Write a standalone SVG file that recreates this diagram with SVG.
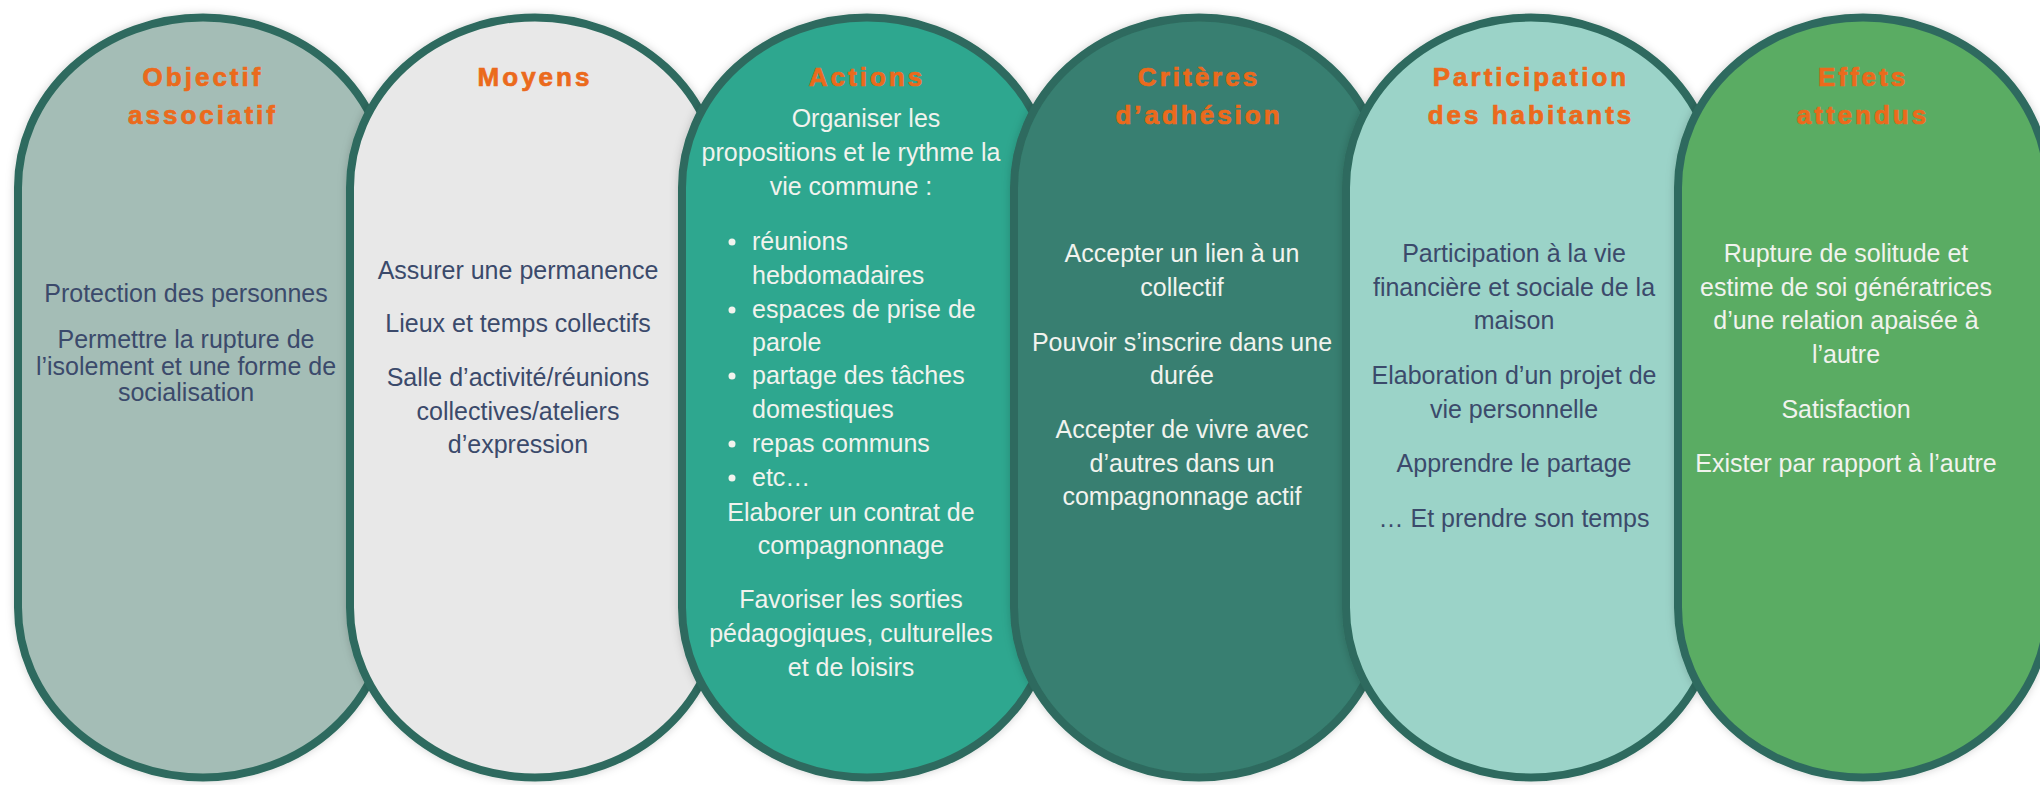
<svg xmlns="http://www.w3.org/2000/svg" xmlns:xlink="http://www.w3.org/1999/xlink" width="2040" height="785" viewBox="0 0 2040 785">
  <style>
    .cap { stroke: #2E6B5E; stroke-width: 8; }
    .f1 { fill: #A4BDB6; }
    .f2 { fill: #E8E8E8; }
    .f3 { fill: #2EA78F; }
    .f4 { fill: #377F71; }
    .f5 { fill: #9BD3C8; }
    .f6 { fill: #5AAC64; }
    .title { font-family: "Liberation Sans", Arial, sans-serif; font-weight: bold; font-size: 26px; letter-spacing: 3px; fill: #EB6A1C; stroke: #EB6A1C; stroke-width: 0.7px; text-anchor: middle; }
    .body { font-family: "Liberation Sans", Arial, sans-serif; font-size: 25px; text-anchor: middle; }
    .left { text-anchor: start; }
    .dark { fill: #3B4A6B; }
    .light { fill: #F1F3EE; }
    .bullet { fill: #F1F3EE; }
  </style>
  <defs>
    <path id="capsule" d="M -185,187.5 A 185 170 0 0 1 185,187.5 L 185,607.5 A 185 170 0 0 1 -185,607.5 Z"/>
    <filter id="shadow" x="-10%" y="-10%" width="120%" height="120%">
      <feDropShadow dx="0" dy="0" stdDeviation="4" flood-color="#000000" flood-opacity="0.18"/>
    </filter>
  </defs>
  <rect x="0" y="0" width="2040" height="785" fill="#FFFFFF"/>

  <g id="node-objectif">
    <use xlink:href="#capsule" href="#capsule" x="203" class="cap f1" filter="url(#shadow)"/>
    <text class="title" x="203" y="86">Objectif</text>
    <text class="title" x="203" y="124">associatif</text>
    <text class="body dark" x="186" y="302">Protection des personnes</text>
    <text class="body dark" x="186" y="348">Permettre la rupture de</text>
    <text class="body dark" x="186" y="375">l’isolement et une forme de</text>
    <text class="body dark" x="186" y="401">socialisation</text>
  </g>

  <g id="node-moyens">
    <use xlink:href="#capsule" href="#capsule" x="535" class="cap f2" filter="url(#shadow)"/>
    <text class="title" x="535" y="86">Moyens</text>
    <text class="body dark" x="518" y="279">Assurer une permanence</text>
    <text class="body dark" x="518" y="332">Lieux et temps collectifs</text>
    <text class="body dark" x="518" y="386">Salle d’activité/réunions</text>
    <text class="body dark" x="518" y="420">collectives/ateliers</text>
    <text class="body dark" x="518" y="453">d’expression</text>
  </g>

  <g id="node-actions">
    <use xlink:href="#capsule" href="#capsule" x="867" class="cap f3" filter="url(#shadow)"/>
    <text class="title" x="867" y="86">Actions</text>
    <text class="body light" x="866" y="127">Organiser les</text>
    <text class="body light" x="851" y="161">propositions et le rythme la</text>
    <text class="body light" x="851" y="195">vie commune :</text>
    <circle class="bullet" cx="732" cy="242" r="3.5"/>
    <text class="body light left" x="752" y="250">réunions</text>
    <text class="body light left" x="752" y="284">hebdomadaires</text>
    <circle class="bullet" cx="732" cy="310" r="3.5"/>
    <text class="body light left" x="752" y="318">espaces de prise de</text>
    <text class="body light left" x="752" y="351">parole</text>
    <circle class="bullet" cx="732" cy="376" r="3.5"/>
    <text class="body light left" x="752" y="384">partage des tâches</text>
    <text class="body light left" x="752" y="418">domestiques</text>
    <circle class="bullet" cx="732" cy="444" r="3.5"/>
    <text class="body light left" x="752" y="452">repas communs</text>
    <circle class="bullet" cx="732" cy="478" r="3.5"/>
    <text class="body light left" x="752" y="486">etc…</text>
    <text class="body light" x="851" y="521">Elaborer un contrat de</text>
    <text class="body light" x="851" y="554">compagnonnage</text>
    <text class="body light" x="851" y="608">Favoriser les sorties</text>
    <text class="body light" x="851" y="642">pédagogiques, culturelles</text>
    <text class="body light" x="851" y="676">et de loisirs</text>
  </g>

  <g id="node-criteres">
    <use xlink:href="#capsule" href="#capsule" x="1199" class="cap f4" filter="url(#shadow)"/>
    <text class="title" x="1199" y="86">Critères</text>
    <text class="title" x="1199" y="124">d’adhésion</text>
    <text class="body light" x="1182" y="262">Accepter un lien à un</text>
    <text class="body light" x="1182" y="296">collectif</text>
    <text class="body light" x="1182" y="351">Pouvoir s’inscrire dans une</text>
    <text class="body light" x="1182" y="384">durée</text>
    <text class="body light" x="1182" y="438">Accepter de vivre avec</text>
    <text class="body light" x="1182" y="472">d’autres dans un</text>
    <text class="body light" x="1182" y="505">compagnonnage actif</text>
  </g>

  <g id="node-participation">
    <use xlink:href="#capsule" href="#capsule" x="1531" class="cap f5" filter="url(#shadow)"/>
    <text class="title" x="1531" y="86">Participation</text>
    <text class="title" x="1531" y="124">des habitants</text>
    <text class="body dark" x="1514" y="262">Participation à la vie</text>
    <text class="body dark" x="1514" y="296">financière et sociale de la</text>
    <text class="body dark" x="1514" y="329">maison</text>
    <text class="body dark" x="1514" y="384">Elaboration d’un projet de</text>
    <text class="body dark" x="1514" y="418">vie personnelle</text>
    <text class="body dark" x="1514" y="472">Apprendre le partage</text>
    <text class="body dark" x="1514" y="527">… Et prendre son temps</text>
  </g>

  <g id="node-effets">
    <use xlink:href="#capsule" href="#capsule" x="1863" class="cap f6" filter="url(#shadow)"/>
    <text class="title" x="1863" y="86">Effets</text>
    <text class="title" x="1863" y="124">attendus</text>
    <text class="body light" x="1846" y="262">Rupture de solitude et</text>
    <text class="body light" x="1846" y="296">estime de soi génératrices</text>
    <text class="body light" x="1846" y="329">d’une relation apaisée à</text>
    <text class="body light" x="1846" y="363">l’autre</text>
    <text class="body light" x="1846" y="418">Satisfaction</text>
    <text class="body light" x="1846" y="472">Exister par rapport à l’autre</text>
  </g>
</svg>
